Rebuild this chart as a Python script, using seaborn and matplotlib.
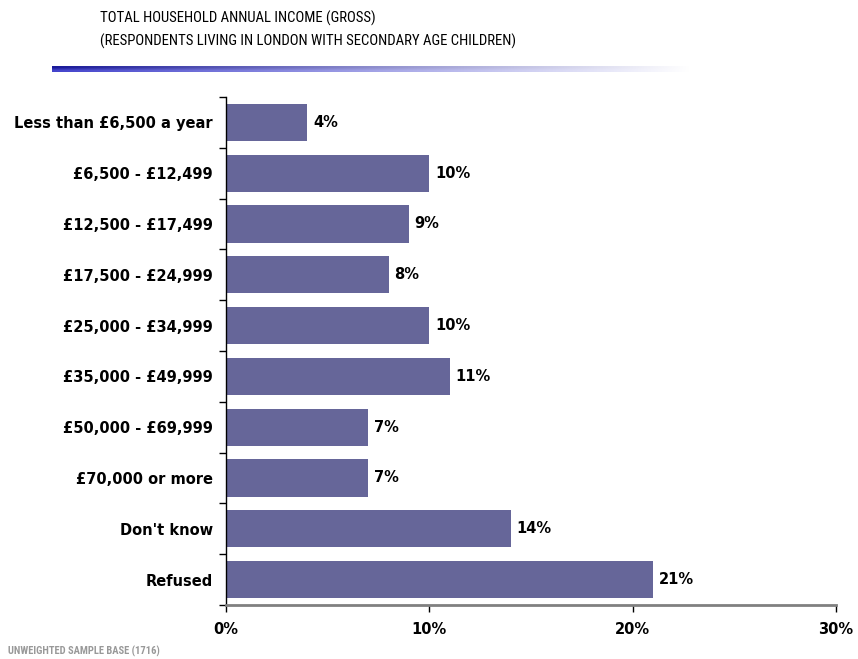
import os
import matplotlib
matplotlib.use("Agg")
import matplotlib.pyplot as plt
from matplotlib import font_manager as fm
import seaborn as sns
import numpy as np
import pandas as pd
from matplotlib.colors import to_rgb

categories = ["Less than £6,500 a year", "£6,500 - £12,499", "£12,500 - £17,499",
              "£17,500 - £24,999", "£25,000 - £34,999", "£35,000 - £49,999",
              "£50,000 - £69,999", "£70,000 or more", "Don't know", "Refused"]
values = [4, 10, 9, 8, 10, 11, 7, 7, 14, 21]
xticks = [0, 10, 20, 30]
xtick_labels = ["0%", "10%", "20%", "30%"]
title_lines = ["TOTAL HOUSEHOLD ANNUAL INCOME (GROSS)",
               "(RESPONDENTS LIVING IN LONDON WITH SECONDARY AGE CHILDREN)"]
footnote = "UNWEIGHTED SAMPLE BASE (1716)"

sns.set_style("white")
plt.rcParams['font.family'] = ['DejaVu Sans']
plt.rcParams['text.color'] = 'black'

ttf_dir = os.path.join(matplotlib.get_data_path(), "fonts", "ttf")
bold_path = os.path.join(ttf_dir, "DejaVuSans-Bold.ttf")

def find_font(*names):
    files = {os.path.basename(f.fname): f.fname for f in fm.fontManager.ttflist}
    for n in names:
        if n in files:
            return files[n]
    return None

cond_path = find_font("RobotoCondensed-Regular.ttf", "LiberationSansNarrow-Regular.ttf",
                      "DejaVuSansCondensed.ttf")
cond_bold_path = find_font("RobotoCondensed-Bold.ttf", "LiberationSansNarrow-Bold.ttf",
                           "DejaVuSansCondensed-Bold.ttf")

def fp(path, size, **fallback):
    if path and os.path.exists(path):
        return fm.FontProperties(fname=path, size=size)
    return fm.FontProperties(family="DejaVu Sans", size=size, **fallback)

lab_fp = fp(bold_path, 10.5, weight="bold")
foot_fp = fp(cond_bold_path, 7.6, weight="bold", stretch="condensed")

df = pd.DataFrame({"cat": categories, "val": values})

fig = plt.figure(figsize=(8.58, 6.59), dpi=100)
ax = fig.add_axes([226/858, 1-605/659, (836-226)/858, (605-97)/659])

sns.barplot(data=df, y="cat", x="val", orient="h", color="#666699",
            saturation=1, width=0.73, linewidth=0, ax=ax)

ax.set_xlim(0, 30)
ax.set_ylim(len(categories)-0.5, -0.5)
ax.set_xticks(xticks)
ax.set_xticklabels(xtick_labels, fontproperties=lab_fp, color="black")
ax.set_yticks(np.arange(len(categories)))
ax.set_yticklabels(categories, fontproperties=lab_fp, color="black")
ax.tick_params(axis="y", which="major", left=False, length=0, pad=9.5)
ax.set_yticks(np.arange(len(categories)+1) - 0.5, minor=True)
ax.tick_params(axis="y", which="minor", left=True, length=5, width=1, color="black", direction="out")
ax.tick_params(axis="x", bottom=True, length=5, width=1, color="black", direction="out", pad=7)
ax.set_xlabel("")
ax.set_ylabel("")
for s in ["top", "right"]:
    ax.spines[s].set_visible(False)
ax.spines["left"].set_color("black")
ax.spines["left"].set_linewidth(1)
ax.spines["bottom"].set_color("#808080")
ax.spines["bottom"].set_linewidth(2)

for i, v in enumerate(values):
    ax.text(v + 0.28, i, f"{v}%", va="center", ha="left", fontproperties=lab_fp, color="black")

# title: size chosen so the second line width is a compromise with the reference
renderer = fig.canvas.get_renderer()
probe = fig.text(0, 0, title_lines[1], fontproperties=fp(cond_path, 10, stretch="condensed"))
w10 = probe.get_window_extent(renderer).width
probe.remove()
tsize = min(13.0, 10 * 420.0 / w10)
title_fp = fp(cond_path, tsize, stretch="condensed")
for k, yy in enumerate([18, 41]):
    fig.text(100/858, 1-yy/659, title_lines[k], fontproperties=title_fp,
             va="center", ha="left", color="black")
fig.text(8/858, 1-651/659, footnote, fontproperties=foot_fp, color="#999999",
         va="center", ha="left")

# gradient line
gax = fig.add_axes([52/858, 1-72/659, (690-52)/858, 6/659])
n = 256
t = np.linspace(0, 1, n)
top = np.array(to_rgb("#1a1a99"))
bot = np.array(to_rgb("#4444cc"))
white = np.ones(3)
img = np.zeros((2, n, 3))
for r, c in enumerate([top, bot]):
    img[r] = c[None, :] * (1 - t[:, None]) + white[None, :] * t[:, None]
gax.imshow(img, aspect="auto", interpolation="bilinear")
gax.axis("off")

fig.savefig("out.png", dpi=100)
